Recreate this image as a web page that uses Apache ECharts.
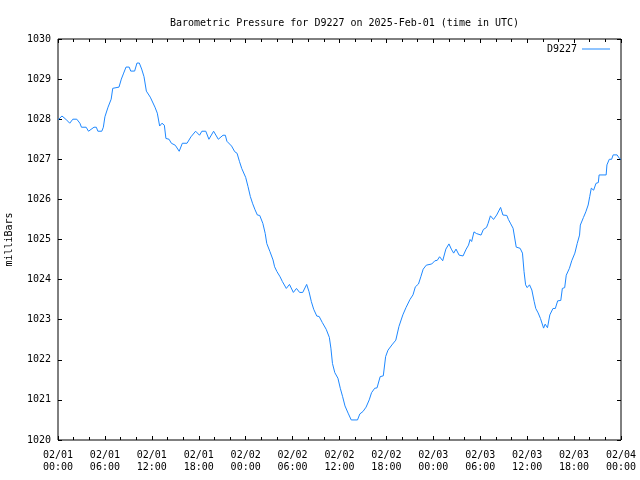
<!DOCTYPE html>
<html>
<head>
<meta charset="utf-8">
<script src="https://cdn.jsdelivr.net/npm/echarts@6/dist/echarts.min.js"></script>
<style>html,body{margin:0;padding:0;background:#fff}#c{width:640px;height:480px}</style>
</head>
<body>
<div id="c"></div>
<script>
// Hours since 2025-02-01 00:00 UTC
const hours = [0.0,0.5,1.0,1.5,1.9,2.4,2.8,3.0,3.6,3.9,4.1,4.6,4.9,5.1,5.6,5.8,6.0,6.4,6.8,7.0,7.1,7.8,8.1,8.4,8.7,9.1,9.3,9.8,10.1,10.4,10.7,11.0,11.3,11.8,12.4,12.7,13.0,13.3,13.6,13.8,14.2,14.5,15.0,15.5,15.9,16.5,17.0,17.2,17.6,18.1,18.4,18.9,19.3,19.9,20.5,21.1,21.4,21.6,22.2,22.6,22.9,23.2,23.5,24.0,24.3,24.6,24.9,25.2,25.5,25.8,26.2,26.5,26.7,27.1,27.5,27.7,28.0,28.4,28.7,29.2,29.6,30.1,30.5,30.9,31.3,31.8,32.1,32.4,32.7,33.1,33.4,33.8,34.3,34.7,34.9,35.1,35.4,35.8,36.1,36.4,36.7,37.1,37.5,38.3,38.6,39.0,39.4,39.8,40.1,40.5,40.8,41.2,41.6,41.9,42.2,42.7,43.2,43.6,44.1,44.5,45.0,45.4,45.7,46.1,46.4,46.7,47.1,47.8,48.2,48.5,48.8,49.2,49.4,49.6,50.0,50.3,50.6,50.9,51.3,51.8,52.2,52.5,52.7,52.9,53.2,53.5,53.7,54.1,54.4,54.8,55.0,55.3,55.7,56.1,56.6,56.9,57.4,57.6,57.9,58.2,58.6,59.1,59.4,59.6,59.8,60.0,60.3,60.6,60.9,61.1,61.4,61.7,62.1,62.3,62.6,62.9,63.3,63.6,63.9,64.3,64.5,64.8,65.0,65.4,65.7,66.1,66.4,66.7,66.8,67.2,67.5,67.8,68.0,68.2,68.5,68.8,69.1,69.2,70.1,70.2,70.5,70.8,71.0,71.5,71.8,72.0];
const pressure = [1027.98,1028.08,1028.0,1027.9,1028.0,1028.0,1027.9,1027.8,1027.8,1027.7,1027.7,1027.8,1027.8,1027.7,1027.7,1027.8,1028.06,1028.3,1028.5,1028.77,1028.8,1028.8,1029.0,1029.15,1029.3,1029.3,1029.2,1029.2,1029.4,1029.4,1029.25,1029.06,1028.7,1028.55,1028.3,1028.15,1027.83,1027.9,1027.85,1027.52,1027.5,1027.4,1027.35,1027.2,1027.4,1027.4,1027.56,1027.6,1027.7,1027.6,1027.7,1027.7,1027.5,1027.7,1027.5,1027.6,1027.6,1027.45,1027.33,1027.19,1027.15,1026.95,1026.77,1026.55,1026.32,1026.07,1025.89,1025.74,1025.61,1025.6,1025.4,1025.15,1024.9,1024.7,1024.49,1024.32,1024.2,1024.07,1023.95,1023.78,1023.88,1023.68,1023.78,1023.68,1023.68,1023.88,1023.7,1023.45,1023.26,1023.09,1023.08,1022.93,1022.76,1022.56,1022.29,1021.91,1021.68,1021.54,1021.29,1021.08,1020.85,1020.67,1020.5,1020.5,1020.65,1020.71,1020.82,1021.0,1021.18,1021.29,1021.3,1021.58,1021.6,1022.08,1022.24,1022.37,1022.49,1022.83,1023.12,1023.3,1023.5,1023.62,1023.82,1023.89,1024.07,1024.26,1024.36,1024.39,1024.47,1024.48,1024.57,1024.47,1024.47,1024.76,1024.89,1024.76,1024.66,1024.76,1024.61,1024.59,1024.76,1024.86,1025.0,1024.95,1025.19,1025.15,1025.19,1025.11,1025.25,1025.3,1025.4,1025.59,1025.5,1025.61,1025.8,1025.61,1025.6,1025.5,1025.39,1025.28,1024.81,1024.78,1024.66,1024.2,1023.87,1023.8,1023.87,1023.74,1023.45,1023.28,1023.17,1023.03,1022.79,1022.89,1022.8,1023.12,1023.28,1023.28,1023.47,1023.48,1023.78,1023.8,1024.11,1024.28,1024.47,1024.66,1024.9,1025.11,1025.36,1025.55,1025.69,1025.86,1026.07,1026.28,1026.23,1026.4,1026.42,1026.61,1026.61,1026.86,1027.0,1027.0,1027.11,1027.11,1027.02,1027.0];
const xTickLabels = ['02/01\n00:00','02/01\n06:00','02/01\n12:00','02/01\n18:00','02/02\n00:00','02/02\n06:00','02/02\n12:00','02/02\n18:00','02/03\n00:00','02/03\n06:00','02/03\n12:00','02/03\n18:00','02/04\n00:00'];
const titleText = 'Barometric Pressure for D9227 on 2025-Feb-01 (time in UTC)';
const seriesName = 'D9227';
const yAxisName = 'milliBars';

const FONT = 'DejaVu Sans Mono';
const lineColor = '#1e88ff';
const chart = echarts.init(document.getElementById('c'), null, {renderer: 'canvas'});
const data = hours.map((h, i) => [h, pressure[i]]);
const tick = () => ({show: true, inside: true, length: 4, lineStyle: {color: '#000', width: 1}});
const minor = () => ({show: true, splitNumber: 3, length: 3, lineStyle: {color: '#000', width: 1}});
const noLine = () => ({show: false, onZero: false});
chart.setOption({
  animation: false,
  backgroundColor: '#fff',
  title: {
    text: titleText, left: 339.5, textAlign: 'center', top: 13,
    textStyle: {fontFamily: FONT, fontSize: 10, fontWeight: 'normal', color: '#000'}
  },
  legend: {
    data: [seriesName], right: 30, top: 44, align: 'right', padding: 0,
    icon: 'rect', itemWidth: 28, itemHeight: 1,
    textStyle: {fontFamily: FONT, fontSize: 10, color: '#000'}
  },
  grid: {left: 58, right: 19, top: 39, bottom: 40, containLabel: false, outerBoundsMode: 'none',
    show: true, borderColor: '#000', borderWidth: 1, backgroundColor: 'transparent'},
  xAxis: [{
    type: 'value', min: 0, max: 72, interval: 6, position: 'bottom',
    axisLine: noLine(), splitLine: {show: false},
    axisTick: tick(), minorTick: minor(),
    axisLabel: {fontFamily: FONT, fontSize: 10, color: '#000', margin: 9, lineHeight: 12,
      formatter: v => xTickLabels[Math.round(v / 6)]}
  }, {
    type: 'value', min: 0, max: 72, interval: 6, position: 'top',
    axisLine: noLine(), splitLine: {show: false},
    axisTick: tick(), minorTick: minor(),
    axisLabel: {show: false}
  }],
  yAxis: [{
    type: 'value', min: 1020, max: 1030, interval: 1, position: 'left',
    name: yAxisName, nameLocation: 'middle', nameRotate: 90, nameGap: 44,
    nameTextStyle: {fontFamily: FONT, fontSize: 10, color: '#000'},
    axisLine: noLine(), splitLine: {show: false},
    axisTick: tick(),
    axisLabel: {fontFamily: FONT, fontSize: 10, color: '#000', margin: 7, formatter: v => String(v)}
  }, {
    type: 'value', min: 1020, max: 1030, interval: 1, position: 'right',
    axisLine: noLine(), splitLine: {show: false},
    axisTick: tick(), axisLabel: {show: false}
  }],
  series: [{
    name: seriesName, type: 'line', data: data, xAxisIndex: 0, yAxisIndex: 0,
    showSymbol: false, symbol: 'none', color: lineColor,
    lineStyle: {width: 1, color: lineColor}
  }]
});
</script>
</body>
</html>
